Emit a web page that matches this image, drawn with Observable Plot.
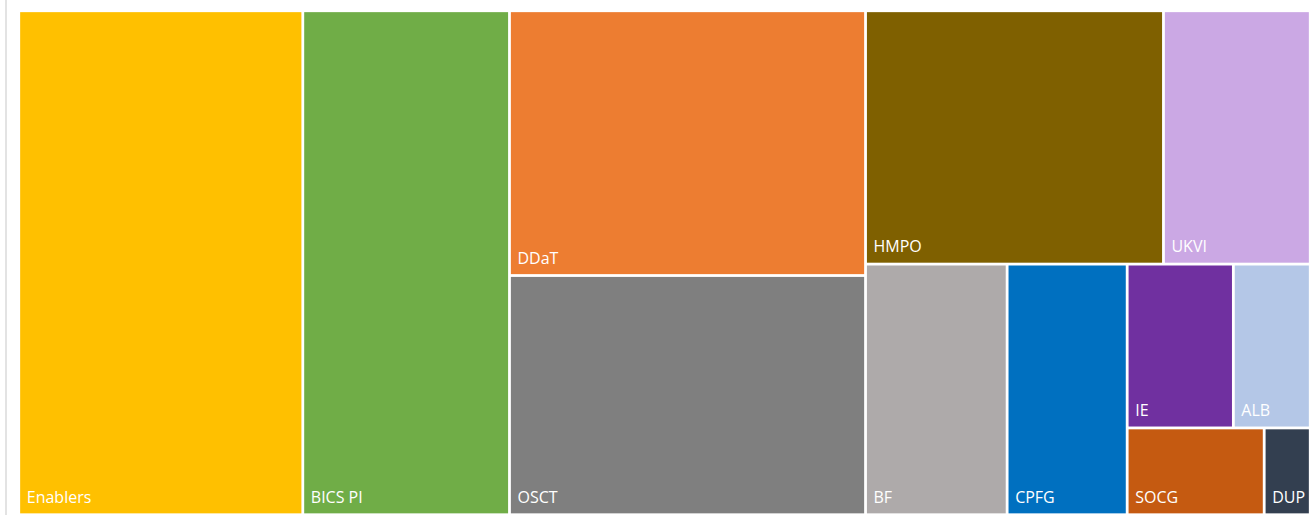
<!DOCTYPE html>
<html>
<head>
<meta charset="utf-8">
<script src="https://cdn.jsdelivr.net/npm/d3@7"></script>
<script src="https://cdn.jsdelivr.net/npm/@observablehq/plot@0.6"></script>
<style>
  html, body { margin: 0; padding: 0; background: #fff; overflow: hidden; }
  #wrap { position: relative; width: 1309px; height: 515px; }
  #edge { position: absolute; left: 5px; top: 0; width: 2px; height: 515px; background: #e3e3e3; }
  #chart { position: absolute; left: 0; top: 0; }
</style>
</head>
<body>
<div id="wrap"><div id="edge"></div><div id="chart"></div></div>
<script>
// ---- data (values read from tile areas) ----
const categories = ["Enablers", "BICS PI", "DDaT", "OSCT", "HMPO", "UKVI", "BF", "CPFG", "IE", "ALB", "SOCG", "DUP"];
const values     = [1432, 1042, 943, 852, 755, 372, 355, 301, 174, 126, 119, 40];
const colors     = ["#FFC000", "#70AD47", "#ED7D31", "#7F7F7F", "#7F6000", "#CBA8E4", "#AEAAAA", "#0070C0", "#7030A0", "#B4C7E7", "#C55A11", "#333F50"];

// ---- layout ----
const W = 1291.5, H = 504;
const RHO = 1.28; // preferred height/width of a tile
function tile(parent, x0, y0, x1, y1) {
  const nodes = parent.children;
  let i = 0, remaining = parent.value;
  const cost = (w, h) => { const a = (h / w) / RHO; return Math.max(a, 1 / a); };
  while (i < nodes.length) {
    const dx = x1 - x0, dy = y1 - y0;
    const k = dx * dy / remaining;
    const vertical = dx >= dy;
    const side = vertical ? dy : dx;
    const worst = (j, sum) => {
      const thick = sum * k / side;
      let m = 0;
      for (let t = i; t < j; ++t) {
        const len = nodes[t].value * k / thick;
        m = Math.max(m, vertical ? cost(thick, len) : cost(len, thick));
      }
      return m;
    };
    let j = i + 1, sum = nodes[i].value, best = worst(j, sum);
    while (j < nodes.length) {
      const s2 = sum + nodes[j].value;
      const c = worst(j + 1, s2);
      if (c > best) break;
      best = c; sum = s2; ++j;
    }
    const thick = sum * k / side;
    let pos = vertical ? y0 : x0;
    for (let t = i; t < j; ++t) {
      const len = nodes[t].value * k / thick;
      if (vertical) { nodes[t].x0 = x0; nodes[t].x1 = x0 + thick; nodes[t].y0 = pos; nodes[t].y1 = pos + len; }
      else { nodes[t].y0 = y0; nodes[t].y1 = y0 + thick; nodes[t].x0 = pos; nodes[t].x1 = pos + len; }
      pos += len;
    }
    if (vertical) x0 += thick; else y0 += thick;
    remaining -= sum;
    i = j;
  }
}

const rows = categories.map((name, i) => ({name, value: values[i]}));
const root = d3.hierarchy({children: rows}).sum(d => d.value || 0).sort((a, b) => b.value - a.value);
d3.treemap().size([W, H]).tile(tile)(root);
const leaves = root.leaves();

const chart = Plot.plot({
  width: 1309,
  height: 515,
  margin: 0,
  style: {fontFamily: "'Open Sans', sans-serif", background: "transparent", overflow: "visible"},
  x: {type: "linear", domain: [0, W], range: [18.75, 1310.25], axis: null},
  y: {type: "linear", domain: [0, H], range: [10.75, 514.75], axis: null},
  color: {domain: categories, range: colors},
  marks: [
    Plot.rect(leaves, {x1: d => d.x0, x2: d => d.x1, y1: d => d.y0, y2: d => d.y1, fill: d => d.data.name, inset: 1.4}),
    Plot.text(leaves, {x: d => d.x0, y: d => d.y1, text: d => d.data.name, textAnchor: "start", lineAnchor: "bottom",
      dx: 7.5, dy: -12.5, fill: "white", fontSize: 16})
  ]
});
document.getElementById("chart").appendChild(chart);
</script>
</body>
</html>
